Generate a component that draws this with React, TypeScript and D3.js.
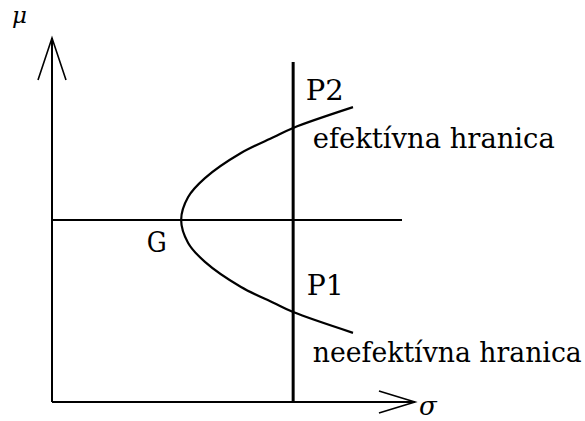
import React from "react";
import * as d3 from "d3";

// Frontier curve (σ, μ), from top end to bottom end
const frontierSigma = [8.6, 6.89, 6.34, 5.4, 4.37, 3.89, 3.69, 3.89, 4.37, 5.4, 6.34, 6.89, 8.6];
const frontierMu = [8.1, 7.53, 7.28, 6.84, 6.15, 5.63, 5.0, 4.37, 3.85, 3.16, 2.72, 2.47, 1.9];

// Reference lines
const gMu = 5.0; // horizontal line through G
const hLineSigma = [0, 10];
const pSigma = 6.89; // vertical line through P1, P2
const pLineMu = [0, 9.34];

// Axes extents
const xAxisEnd = 10.37;
const yAxisEnd = 10.0;

// Labels (position in data units, width in px as measured)
const labels = [
  { text: "P2", sigma: 7.25, mu: 8.29, width: 38 },
  { text: "efektívna hranica", sigma: 7.45, mu: 6.98, width: 242 },
  { text: "G", sigma: 2.71, mu: 4.12, width: 20 },
  { text: "P1", sigma: 7.28, mu: 2.94, width: 37 },
  { text: "neefektívna hranica", sigma: 7.45, mu: 1.1, width: 269 },
];

const W = 585;
const H = 421;

export default function App() {
  const x = d3.scaleLinear().domain([0, 10]).range([52, 402]);
  const y = d3.scaleLinear().domain([0, 10]).range([402, 38]);

  const pts = frontierSigma.map((s, i) => [x(s), y(frontierMu[i])] as [number, number]);
  const curve = d3.line().curve(d3.curveCatmullRom.alpha(0.5))(pts) || "";

  const ox = x(0);
  const oy = y(0);
  const yTip = y(yAxisEnd);
  const xTip = x(xAxisEnd);

  const serif = "DejaVu Serif";

  return (
    <svg
      width={W}
      height={H}
      style={{ position: "absolute", left: 0, top: 0, background: "#fff" }}
    >
      <rect width={W} height={H} fill="#fff" />
      {/* y axis */}
      <line x1={ox} y1={oy} x2={ox} y2={yTip} stroke="#000" strokeWidth={2} />
      <polyline
        points={`${ox - 14},${yTip + 42} ${ox},${yTip} ${ox + 14},${yTip + 42}`}
        fill="none"
        stroke="#000"
        strokeWidth={1.6}
      />
      {/* x axis */}
      <line x1={ox} y1={oy} x2={xTip} y2={oy} stroke="#000" strokeWidth={2} />
      <polyline
        points={`${xTip - 36},${oy - 11} ${xTip},${oy} ${xTip - 36},${oy + 11}`}
        fill="none"
        stroke="#000"
        strokeWidth={1.6}
      />
      {/* horizontal line through G */}
      <line
        x1={x(hLineSigma[0])}
        x2={x(hLineSigma[1])}
        y1={y(gMu)}
        y2={y(gMu)}
        stroke="#000"
        strokeWidth={2}
      />
      {/* vertical line through P1, P2 */}
      <line
        x1={x(pSigma)}
        x2={x(pSigma)}
        y1={y(pLineMu[0])}
        y2={y(pLineMu[1])}
        stroke="#000"
        strokeWidth={3}
      />
      {/* frontier */}
      <path d={curve} fill="none" stroke="#000" strokeWidth={2.2} />
      {/* labels */}
      {labels.map((l) => (
        <text
          key={l.text}
          x={x(l.sigma)}
          y={y(l.mu)}
          fontFamily={serif}
          fontSize={27}
          textLength={l.width}
          lengthAdjust="spacingAndGlyphs"
          fill="#000"
        >
          {l.text}
        </text>
      ))}
      <text x={12} y={23} fontFamily={serif} fontStyle="italic" fontSize={23}>
        μ
      </text>
      <text x={419} y={415} fontFamily={serif} fontStyle="italic" fontSize={26}>
        σ
      </text>
    </svg>
  );
}
